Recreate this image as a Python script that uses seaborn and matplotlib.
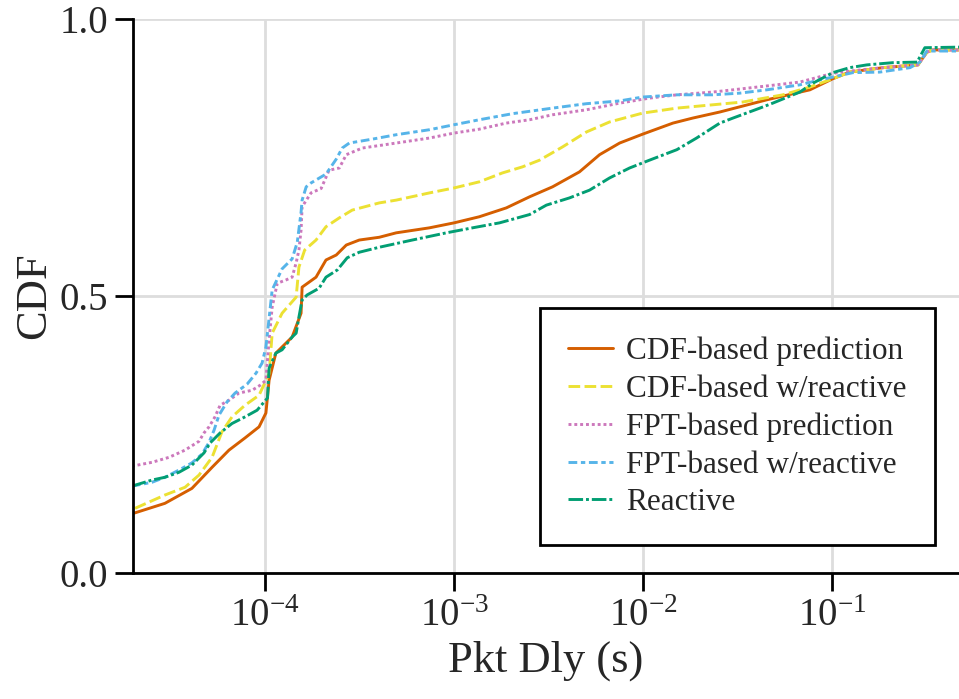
import numpy as np
import pandas as pd
import matplotlib
matplotlib.use("Agg")
import matplotlib.pyplot as plt
import seaborn as sns

methods = ["CDF-based prediction", "CDF-based w/reactive", "FPT-based prediction",
           "FPT-based w/reactive", "Reactive"]
colors = ["#D55E00", "#ECE133", "#CC78BC", "#56B4E9", "#029E73"]

cdf_pred_x = [1.97e-5, 2.95e-5, 4.10e-5, 5.24e-5, 6.44e-5, 7.83e-5, 9.29e-5, 1.01e-4, 1.05e-4,
              1.14e-4, 1.39e-4, 1.55e-4, 1.57e-4, 1.86e-4, 2.10e-4, 2.38e-4, 2.69e-4, 3.15e-4,
              4.02e-4, 4.94e-4, 7.40e-4, 1.0e-3, 1.36e-3, 1.89e-3, 2.51e-3, 3.32e-3, 4.61e-3,
              5.89e-3, 7.52e-3, 9.95e-3, 1.44e-2, 1.83e-2, 2.55e-2, 4.52e-2, 7.64e-2, 0.101,
              0.124, 0.186, 0.285, 0.318, 0.342, 0.47]
cdf_pred_y = [0.107, 0.126, 0.153, 0.191, 0.222, 0.244, 0.264, 0.289, 0.348,
              0.397, 0.426, 0.469, 0.516, 0.534, 0.565, 0.574, 0.592, 0.601,
              0.606, 0.614, 0.623, 0.632, 0.643, 0.659, 0.679, 0.697, 0.724,
              0.755, 0.776, 0.792, 0.812, 0.821, 0.832, 0.854, 0.872, 0.892,
              0.904, 0.912, 0.917, 0.940, 0.944, 0.944]

cdf_react_x = [2.05e-5, 2.95e-5, 3.77e-5, 4.47e-5, 5.24e-5, 5.91e-5, 6.68e-5, 7.83e-5, 9.29e-5,
               1.05e-4, 1.09e-4, 1.23e-4, 1.46e-4, 1.51e-4, 1.62e-4, 1.86e-4, 2.10e-4, 2.47e-4,
               2.89e-4, 4.02e-4, 4.94e-4, 7.4e-4, 1.0e-3, 1.36e-3, 1.8e-3, 2.3e-3, 2.83e-3,
               3.75e-3, 5.02e-3, 6.65e-3, 9.95e-3, 1.51e-2, 2.34e-2, 3.37e-2, 5.5e-2, 7.64e-2,
               0.101, 0.124, 0.186, 0.285, 0.318, 0.342, 0.47]
cdf_react_y = [0.117, 0.141, 0.155, 0.177, 0.209, 0.255, 0.282, 0.303, 0.321,
               0.360, 0.433, 0.469, 0.498, 0.552, 0.583, 0.601, 0.625, 0.641,
               0.655, 0.668, 0.673, 0.686, 0.695, 0.706, 0.722, 0.733, 0.745,
               0.769, 0.796, 0.814, 0.830, 0.839, 0.845, 0.850, 0.863, 0.877,
               0.892, 0.904, 0.912, 0.917, 0.940, 0.944, 0.944]

fpt_pred_x = [1.97e-5, 2.52e-5, 3.10e-5, 3.77e-5, 4.47e-5, 4.75e-5, 5.05e-5, 5.43e-5, 5.78e-5,
              6.44e-5, 7.28e-5, 8.54e-5, 9.41e-5, 1.01e-4, 1.05e-4, 1.09e-4, 1.16e-4, 1.29e-4,
              1.39e-4, 1.46e-4, 1.51e-4, 1.55e-4, 1.57e-4, 1.75e-4, 1.98e-4, 2.18e-4, 2.47e-4,
              2.69e-4, 3.27e-4, 4.94e-4, 7.4e-4, 1.0e-3, 1.36e-3, 1.89e-3, 2.51e-3, 3.32e-3,
              5.02e-3, 7.52e-3, 1.08e-2, 1.51e-2, 2.34e-2, 2.99e-2, 4.52e-2, 6.76e-2, 9.4e-2,
              0.110, 0.186, 0.285, 0.318, 0.342, 0.47]
fpt_pred_y = [0.193, 0.200, 0.209, 0.222, 0.238, 0.253, 0.264, 0.282, 0.303,
              0.312, 0.325, 0.330, 0.339, 0.348, 0.421, 0.480, 0.523, 0.529,
              0.534, 0.560, 0.583, 0.619, 0.661, 0.686, 0.694, 0.727, 0.731,
              0.755, 0.767, 0.776, 0.785, 0.794, 0.801, 0.812, 0.818, 0.827,
              0.836, 0.848, 0.857, 0.863, 0.868, 0.872, 0.879, 0.886, 0.899,
              0.904, 0.912, 0.917, 0.940, 0.944, 0.944]

fpt_react_x = [1.97e-5, 2.52e-5, 2.95e-5, 3.5e-5, 4.1e-5, 4.64e-5, 5.05e-5, 5.37e-5, 5.7e-5,
               6.29e-5, 6.94e-5, 8.03e-5, 8.96e-5, 9.64e-5, 1.01e-4, 1.05e-4, 1.09e-4, 1.23e-4,
               1.39e-4, 1.48e-4, 1.55e-4, 1.57e-4, 1.65e-4, 1.75e-4, 2.10e-4, 2.38e-4, 2.56e-4,
               2.79e-4, 3.69e-4, 4.94e-4, 7.4e-4, 1.0e-3, 1.36e-3, 2.04e-3, 3.32e-3, 5.02e-3,
               7.52e-3, 9.95e-3, 1.51e-2, 2.34e-2, 3.25e-2, 4.52e-2, 6.76e-2, 8.63e-2, 0.101,
               0.129, 0.179, 0.259, 0.292, 0.318, 0.47]
fpt_react_y = [0.157, 0.164, 0.173, 0.186, 0.199, 0.215, 0.236, 0.258, 0.285,
               0.309, 0.325, 0.341, 0.361, 0.379, 0.408, 0.460, 0.511, 0.549,
               0.567, 0.597, 0.651, 0.673, 0.697, 0.704, 0.720, 0.747, 0.767,
               0.776, 0.783, 0.791, 0.800, 0.809, 0.818, 0.829, 0.839, 0.847,
               0.852, 0.859, 0.863, 0.863, 0.866, 0.872, 0.881, 0.890, 0.895,
               0.903, 0.904, 0.912, 0.922, 0.942, 0.942]

reactive_x = [1.97e-5, 2.52e-5, 2.95e-5, 3.5e-5, 4.1e-5, 4.75e-5, 5.12e-5, 5.78e-5, 6.68e-5,
              7.83e-5, 9.07e-5, 1.03e-4, 1.05e-4, 1.14e-4, 1.23e-4, 1.39e-4, 1.46e-4, 1.51e-4,
              1.57e-4, 1.67e-4, 1.93e-4, 2.10e-4, 2.41e-4, 2.72e-4, 3.15e-4, 4.02e-4, 6.01e-4,
              9.1e-4, 1.25e-3, 1.74e-3, 2.51e-3, 3.08e-3, 4.08e-3, 5.21e-3, 6.65e-3, 8.49e-3,
              1.08e-2, 1.51e-2, 1.92e-2, 2.55e-2, 2.99e-2, 4.15e-2, 4.86e-2, 6.76e-2, 7.93e-2,
              0.101, 0.124, 0.153, 0.21, 0.282, 0.31, 0.47]
reactive_y = [0.157, 0.168, 0.173, 0.182, 0.195, 0.217, 0.235, 0.253, 0.270,
              0.282, 0.294, 0.316, 0.370, 0.397, 0.403, 0.426, 0.433, 0.462,
              0.493, 0.502, 0.514, 0.534, 0.547, 0.569, 0.579, 0.588, 0.601,
              0.614, 0.623, 0.632, 0.647, 0.664, 0.677, 0.691, 0.713, 0.731,
              0.745, 0.764, 0.785, 0.812, 0.821, 0.839, 0.848, 0.868, 0.884,
              0.903, 0.912, 0.917, 0.921, 0.922, 0.948, 0.949]

xs = [cdf_pred_x, cdf_react_x, fpt_pred_x, fpt_react_x, reactive_x]
ys = [cdf_pred_y, cdf_react_y, fpt_pred_y, fpt_react_y, reactive_y]
frames = []
for name, x, y in zip(methods, xs, ys):
    frames.append(pd.DataFrame({"delay": x, "cdf": y, "method": name}))
df = pd.concat(frames, ignore_index=True)

sns.set_theme(style="ticks")
plt.rcParams["font.family"] = ["Liberation Serif", "DejaVu Serif"]
plt.rcParams["mathtext.fontset"] = "custom"
plt.rcParams["mathtext.rm"] = "Liberation Serif"
plt.rcParams["mathtext.it"] = "Liberation Serif:italic"

fig = plt.figure(figsize=(9.59, 6.99), dpi=100)
ax = fig.add_axes([0.1387, 0.180, 0.8613, 0.793])

sns.lineplot(data=df, x="delay", y="cdf", hue="method", style="method",
             hue_order=methods, style_order=methods, palette=colors,
             estimator=None, sort=False, linewidth=2.1, ax=ax)

ax.set_xscale("log")
ax.set_xlim(2e-5, 0.47)
ax.set_ylim(0, 1)
ax.set_yticks([0.0, 0.5, 1.0])
ax.set_yticklabels(["0.0", "0.5", "1.0"])
ax.grid(True, which="major", color="#dddddd", linewidth=2)
ax.minorticks_off()
ax.set_axisbelow(True)
sns.despine(ax=ax)
for s in ["left", "bottom"]:
    ax.spines[s].set_linewidth(2)
    ax.spines[s].set_color("black")
ax.tick_params(axis="both", which="major", labelsize=28, length=13, width=2,
               pad=5, color="black")
ax.set_xlabel("Pkt Dly (s)", fontsize=32)
ax.set_ylabel("CDF", fontsize=32)

handles, labels = ax.get_legend_handles_labels()
leg = ax.legend(handles, labels, loc="lower right", bbox_to_anchor=(0.971, 0.05),
                borderaxespad=0, fontsize=22.5, frameon=True, fancybox=False,
                edgecolor="black", framealpha=1, labelspacing=0.28,
                handlelength=1.45, handletextpad=0.42, borderpad=0.9)
leg.get_frame().set_linewidth(2)

fig.savefig("out.png", dpi=100)
